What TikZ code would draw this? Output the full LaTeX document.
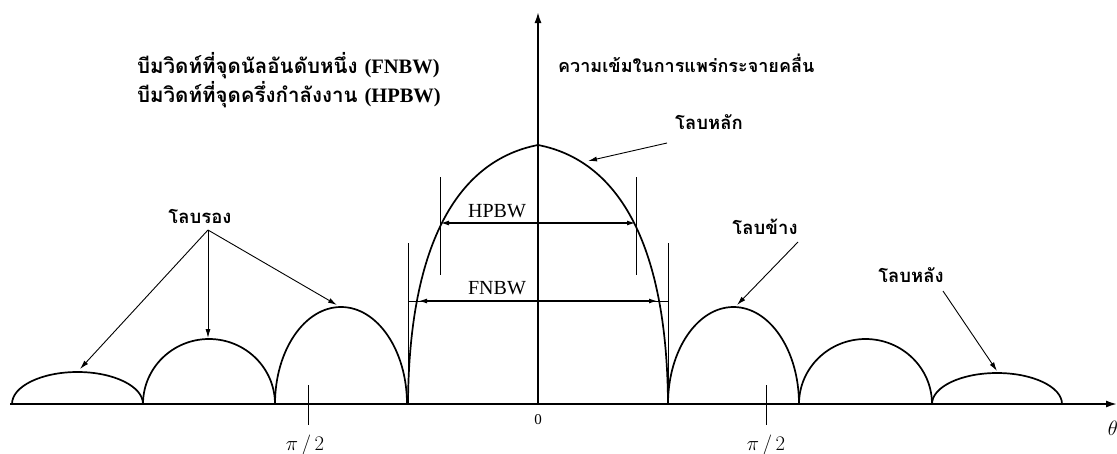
\documentclass[tikz,border=0pt]{standalone}
\usepackage{fontspec}
\setmainfont{Liberation Serif}
\newfontfamily\thai[Script=Thai]{Loma}
\usetikzlibrary{arrows.meta}
\begin{document}
\begin{tikzpicture}[x=1pt,y=-1pt,
  curve/.style={line width=1.7pt, line join=round},
  axisline/.style={line width=1.7pt},
  thin/.style={line width=1pt},
  tip/.style={line width=0.9pt, -{Latex[length=9pt,width=5pt]}},
  dtip/.style={line width=1.1pt, {Latex[length=8pt,width=5pt]}-{Latex[length=8pt,width=5pt]}},
  thaitxt/.style={font=\thai\bfseries\fontsize{18.5}{21}\selectfont, inner sep=0pt},
  titletxt/.style={font=\thai\bfseries\fontsize{20.5}{22}\selectfont, inner sep=0pt},
  latintxt/.style={font=\fontsize{20}{22}\selectfont, inner sep=0pt},
  mathtxt/.style={font=\fontsize{20}{22}\selectfont, inner sep=0pt}]
\fill[white] (0,0) rectangle (1117,453);
\useasboundingbox (0,0) rectangle (1117,453);

% axes
\coordinate (xs) at (10,404);
\coordinate (xe) at (1117,404);
\coordinate (ys) at (538,404);
\coordinate (ye) at (538,12);
\draw[axisline, -{Latex[length=11pt,width=7pt]}] (xs) -- (xe);
\draw[axisline, -{Latex[length=11pt,width=7pt]}] (ys) -- (ye);

% main lobe
\draw[curve] (408,404) .. controls (409,240) and (460,160) .. (538,145)
  .. controls (616,160) and (667,240) .. (668,404);

% side lobes (left)
\draw[curve] (12,404) arc[start angle=180, end angle=0, x radius=65.5, y radius=-32];
\draw[curve] (143,404) arc[start angle=180, end angle=0, x radius=66, y radius=-65];
\draw[curve] (275,404) arc[start angle=180, end angle=0, x radius=66, y radius=-97];
% side lobes (right)
\draw[curve] (668,404) arc[start angle=180, end angle=0, x radius=65.5, y radius=-97];
\draw[curve] (799,404) arc[start angle=180, end angle=0, x radius=66.5, y radius=-65];
\draw[curve] (932,404) arc[start angle=180, end angle=0, x radius=65, y radius=-31];

% beamwidth markers
\draw[thin] (408,243) -- (408,404);
\draw[thin] (668,243) -- (668,404);
\draw[thin] (440,177) -- (440,275);
\draw[thin] (636,177) -- (636,275);
\coordinate (hl) at (441,223);
\coordinate (hr) at (635,223);
\draw[dtip] (hl) -- (hr);
\coordinate (fl) at (408,301);
\coordinate (fr) at (668,301);
\coordinate (fla) at (419,301);
\coordinate (fra) at (657,301);
\draw[thin] (fl) -- (fra);
\draw[thin] (fla) -- (fr);
\draw[dtip] (fla) -- (fra);
\node[latintxt] (hpbw) at (497,211) {HPBW};
\node[latintxt] (fnbw) at (497,288) {FNBW};

% ticks
\draw[thin] (308,385) -- (308,425);
\draw[thin] (766,385) -- (766,425);
\node[mathtxt] (pl) at (305,445) {$\pi\,/\,2$};
\node[mathtxt] (pr) at (766,445) {$\pi\,/\,2$};
\node[latintxt, font=\fontsize{15}{18}\selectfont] (zero) at (538,420) {0};
\node[mathtxt, font=\fontsize{21}{22}\selectfont] (theta) at (1113,428) {$\theta$};

% titles
\node[titletxt, anchor=west] (t1) at (137,66) {บีมวิดท์ที่จุดนัลอันดับหนึ่ง \textrm{(FNBW)}};
\node[titletxt, anchor=west] (t2) at (137,95) {บีมวิดท์ที่จุดครึ่งกำลังงาน \textrm{(HPBW)}};
\node[thaitxt, anchor=west, font=\thai\bfseries\fontsize{18}{21}\selectfont] (t3) at (558,63) {ความเข้มในการแพร่กระจายคลื่น};

% lobe labels
\node[thaitxt] (main) at (709,122) {โลบหลัก};
\node[thaitxt] (minor) at (200,216) {โลบรอง};
\node[thaitxt] (side) at (765,227) {โลบข้าง};
\node[thaitxt] (back) at (911,275) {โลบหลัง};

\coordinate (ms) at (667,143);
\coordinate (mt) at (588,161);
\draw[tip] (ms) -- (mt);
\coordinate (rs) at (208,230);
\coordinate (r1) at (80,369);
\coordinate (r2) at (208,338);
\coordinate (r3) at (337,305);
\draw[tip] (rs) -- (r1);
\draw[tip] (rs) -- (r2);
\draw[tip] (rs) -- (r3);
\coordinate (ss) at (798,242);
\coordinate (st) at (737,305);
\draw[tip] (ss) -- (st);
\coordinate (bs) at (943,291);
\coordinate (bt) at (997,371);
\draw[tip] (bs) -- (bt);
\end{tikzpicture}
\end{document}
